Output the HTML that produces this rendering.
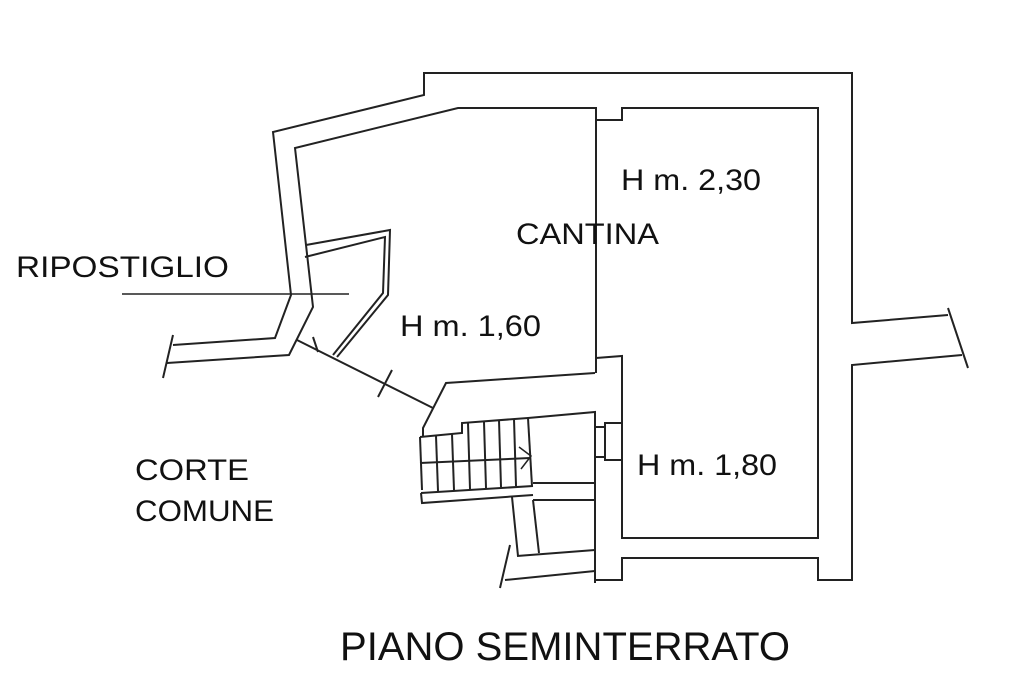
<!DOCTYPE html>
<html><head><meta charset="utf-8"><style>
html,body{margin:0;padding:0;background:#fff;}
svg{display:block}
text{font-family:"Liberation Sans",Arial,sans-serif;fill:#111;}
</style></head><body>
<svg width="1024" height="682" viewBox="0 0 1024 682" xmlns="http://www.w3.org/2000/svg">
<g fill="none" stroke="#222" stroke-width="2" stroke-linejoin="miter">
<!-- outer wall -->
<polyline points="173,345 275,338 291,295 273,132 424,95 424,73 852,73 852,323 948,315"/>
<polyline points="962,355 852,365 852,580 818,580 818,558 622,558 622,580 595,580"/>
<line x1="948" y1="308" x2="968" y2="368"/>
<!-- inner left cantina -->
<polyline points="167,363 289,355 313,307 306,245 295,148 458,108 596,108 596,360"/>
<polyline points="596,120 622,120 622,108 818,108 818,538 622,538 622,356 596,358"/>
<line x1="596" y1="360" x2="596" y2="373"/>
<line x1="163" y1="378" x2="173" y2="335"/>
<!-- ripostiglio partition -->
<polyline points="306,245 390,230 388,295 337,357"/>
<polyline points="305,257 385,237 383,293 333,355"/>
<!-- door line -->
<line x1="297" y1="340" x2="433" y2="408"/>
<line x1="313" y1="337" x2="318" y2="352"/>
<line x1="392" y1="370" x2="378" y2="397"/>
<!-- cantina lower wall -->
<polyline points="595,373 446,383 423,428 423,437"/>
<!-- stairs -->
<polyline points="420,437 462,433 462,423 528,418 595,412 595,583"/>
<line x1="420" y1="437" x2="422" y2="490"/>
<line x1="420" y1="463" x2="530" y2="458"/>
<line x1="421" y1="493" x2="533" y2="486"/>
<polyline points="421,493 422,503 533,495"/>
<line x1="436" y1="436" x2="438" y2="491"/>
<line x1="452" y1="434" x2="454" y2="490"/>
<line x1="468" y1="423" x2="470" y2="489"/>
<line x1="484" y1="422" x2="486" y2="488"/>
<line x1="499" y1="420" x2="501" y2="487"/>
<line x1="514" y1="419" x2="516" y2="486"/>
<line x1="528" y1="418" x2="532" y2="486"/>
<polyline points="519,447 531,456 521,469" stroke-width="1.5"/>
<line x1="533" y1="483" x2="595" y2="483"/>
<line x1="533" y1="500" x2="595" y2="500"/>
<line x1="512" y1="497" x2="518" y2="556"/>
<line x1="533" y1="500" x2="539" y2="553"/>
<line x1="517" y1="556" x2="595" y2="550"/>
<line x1="505" y1="580" x2="595" y2="571"/>
<line x1="510" y1="545" x2="500" y2="588"/>
<!-- door jamb -->
<polyline points="595,427 605,427 605,457 595,457"/>
<polyline points="622,423 605,423 605,460 622,460"/>
<!-- leader -->
<line x1="122" y1="294" x2="349" y2="294" stroke-width="1.5"/>
</g>
<text x="16" y="277" font-size="30" textLength="213" lengthAdjust="spacingAndGlyphs">RIPOSTIGLIO</text>
<text x="516" y="244" font-size="30" textLength="143" lengthAdjust="spacingAndGlyphs">CANTINA</text>
<text x="621" y="190" font-size="30" textLength="140" lengthAdjust="spacingAndGlyphs">H m. 2,30</text>
<text x="400" y="336" font-size="30" textLength="141" lengthAdjust="spacingAndGlyphs">H m. 1,60</text>
<text x="637" y="475" font-size="30" textLength="140" lengthAdjust="spacingAndGlyphs">H m. 1,80</text>
<text x="135" y="480" font-size="30" textLength="114" lengthAdjust="spacingAndGlyphs">CORTE</text>
<text x="135" y="521" font-size="30" textLength="139" lengthAdjust="spacingAndGlyphs">COMUNE</text>
<text x="340" y="660" font-size="40" textLength="450" lengthAdjust="spacingAndGlyphs">PIANO SEMINTERRATO</text>
</svg>
</body></html>
